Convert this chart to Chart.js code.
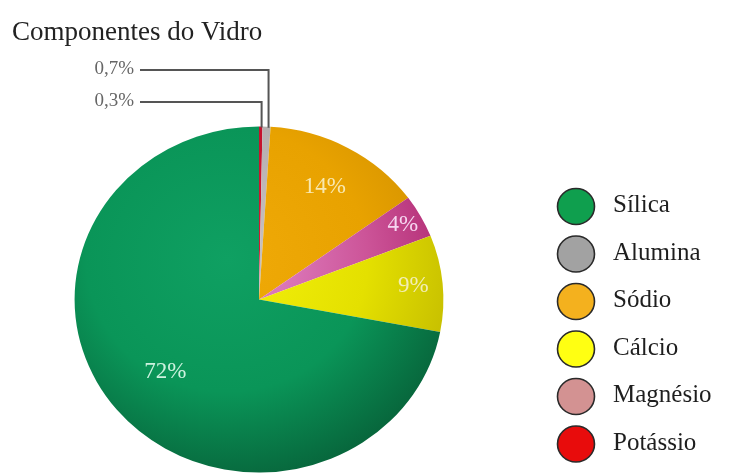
<!DOCTYPE html>
<html lang="pt">
<head>
<meta charset="utf-8">
<title>Componentes do Vidro</title>
<script src="https://cdn.jsdelivr.net/npm/chart.js@4/dist/chart.umd.min.js"></script>
<style>
  html, body { margin: 0; padding: 0; background: #fff; }
  #grafico { display: block; }
</style>
</head>
<body>
<canvas id="grafico" width="729" height="473"></canvas>
<script>
// Fatias na ordem em que aparecem no sentido horário a partir do topo
const componentes = ["Potássio", "Alumina", "Sódio", "Magnésio", "Cálcio", "Sílica"];
const percentuais = [0.3, 0.7, 14, 4, 9, 72];

// Ordem da legenda à direita
const ordemLegenda = ["Sílica", "Alumina", "Sódio", "Cálcio", "Magnésio", "Potássio"];

// Cores de cada componente: [claro, base, escuro] para o sombreado da pizza
const tonsFatia = {
  "Potássio": ["#d41c36", "#c4122c", "#9a0a20"],
  "Alumina":  ["#cac4c4", "#b6afaf", "#9a9494"],
  "Sódio":    ["#f0aa08", "#e8a200", "#cc8c00"],
  "Magnésio": ["#e690d0", "#cc5498", "#a81c66"],
  "Cálcio":   ["#f4f20c", "#e4e000", "#bfb600"],
  "Sílica":   ["#0fa062", "#0a9558", "#075e37"]
};
// Cores planas dos círculos da legenda
const coresLegenda = {
  "Sílica": "#0f9f4e",
  "Alumina": "#a2a2a2",
  "Sódio": "#f4b11e",
  "Cálcio": "#ffff12",
  "Magnésio": "#d39292",
  "Potássio": "#e80c0c"
};
// Cor do texto de porcentagem dentro das fatias
const corRotulo = {
  "Sódio": "#f8e8b0",
  "Magnésio": "#f6d6f0",
  "Cálcio": "#f2eeb4",
  "Sílica": "#cdf2df"
};
// Distância do rótulo ao centro, em fração do raio
const raioRotulo = { "Sódio": 0.74, "Magnésio": 0.89, "Cálcio": 0.84, "Sílica": 0.66 };
// Fatias pequenas com rótulo externo e linha de chamada
const chamadas = [
  { nome: "Alumina", y: 70 },
  { nome: "Potássio", y: 102 }
];

const ESTICA_X = 1.066;   // pizza levemente achatada na vertical
const SERIF = "'Liberation Serif', 'DejaVu Serif', serif";

function formataPct(v) {
  return String(v).replace(".", ",") + "%";
}

// gradiente radial com brilho no canto superior esquerdo
function sombreado(context) {
  const chart = context.chart;
  const area = chart.chartArea;
  if (!area) return null;
  const cx = (area.left + area.right) / 2;
  const cy = (area.top + area.bottom) / 2;
  const nome = componentes[context.dataIndex];
  const t = tonsFatia[nome];
  const g = chart.ctx.createRadialGradient(cx - 30, cy - 40, 0, cx - 30, cy - 40, 240);
  g.addColorStop(0, t[0]);
  g.addColorStop(0.55, t[1]);
  g.addColorStop(1, t[2]);
  return g;
}

function pontoArco(arc, ang, r) {
  // ângulo em radianos do canvas, coordenadas já esticadas em x
  return {
    x: arc.x + Math.cos(ang) * r * ESTICA_X,
    y: arc.y + Math.sin(ang) * r
  };
}

const decoracao = {
  id: "decoracao",
  beforeDatasetsDraw(chart) {
    const ctx = chart.ctx;
    const a = chart.chartArea;
    const cx = (a.left + a.right) / 2;
    ctx.save();
    ctx.translate(cx, 0);
    ctx.scale(ESTICA_X, 1);
    ctx.translate(-cx, 0);
  },
  afterDatasetsDraw(chart) {
    const ctx = chart.ctx;
    ctx.restore();
    const arcos = chart.getDatasetMeta(0).data;

    // porcentagens dentro das fatias
    ctx.save();
    ctx.font = "23px " + SERIF;
    ctx.textAlign = "center";
    ctx.textBaseline = "middle";
    componentes.forEach((nome, i) => {
      if (!(nome in raioRotulo)) return;
      const arc = arcos[i];
      const meio = (arc.startAngle + arc.endAngle) / 2;
      const p = pontoArco(arc, meio, arc.outerRadius * raioRotulo[nome]);
      ctx.fillStyle = corRotulo[nome];
      ctx.fillText(formataPct(percentuais[i]), p.x, p.y);
    });

    // chamadas para as fatias pequenas
    ctx.strokeStyle = "#555";
    ctx.lineWidth = 2;
    ctx.fillStyle = "#666";
    ctx.font = "19px " + SERIF;
    ctx.textAlign = "right";
    ctx.textBaseline = "middle";
    chamadas.forEach(c => {
      const i = componentes.indexOf(c.nome);
      const arc = arcos[i];
      const ang = arc.startAngle + (arc.endAngle - arc.startAngle) * 0.75;
      const p = pontoArco(arc, ang, arc.outerRadius);
      ctx.beginPath();
      ctx.moveTo(140, c.y);
      ctx.lineTo(p.x, c.y);
      ctx.lineTo(p.x, p.y + 1);
      ctx.stroke();
      ctx.fillText(formataPct(percentuais[i]), 134, c.y - 1);
    });
    ctx.restore();
  },
  afterDraw(chart) {
    const ctx = chart.ctx;
    ctx.save();
    // título
    ctx.fillStyle = "#222";
    ctx.font = "27px " + SERIF;
    ctx.textAlign = "left";
    ctx.textBaseline = "alphabetic";
    ctx.fillText("Componentes do Vidro", 12, 40);

    // legenda com círculos
    const topo = 206.5, passo = 47.5;
    ctx.font = "25px " + SERIF;
    ctx.textBaseline = "middle";
    ordemLegenda.forEach((nome, k) => {
      const y = topo + passo * k;
      ctx.beginPath();
      ctx.ellipse(576, y, 18.5, 18, 0, 0, Math.PI * 2);
      ctx.fillStyle = coresLegenda[nome];
      ctx.fill();
      ctx.lineWidth = 1.6;
      ctx.strokeStyle = "#2a2a2a";
      ctx.stroke();
      ctx.fillStyle = "#1e1e1e";
      ctx.fillText(nome, 613, y - 1);
    });
    ctx.restore();
  }
};

new Chart(document.getElementById("grafico"), {
  type: "pie",
  data: {
    labels: componentes,
    datasets: [{
      data: percentuais,
      backgroundColor: sombreado,
      borderWidth: 0,
      hoverOffset: 0
    }]
  },
  options: {
    responsive: false,
    animation: false,
    devicePixelRatio: 1,
    rotation: 0,
    layout: { padding: { left: 86, right: 297, top: 126, bottom: 0 } },
    plugins: {
      legend: { display: false },
      title: { display: false },
      tooltip: { enabled: false }
    }
  },
  plugins: [decoracao]
});
</script>
</body>
</html>
